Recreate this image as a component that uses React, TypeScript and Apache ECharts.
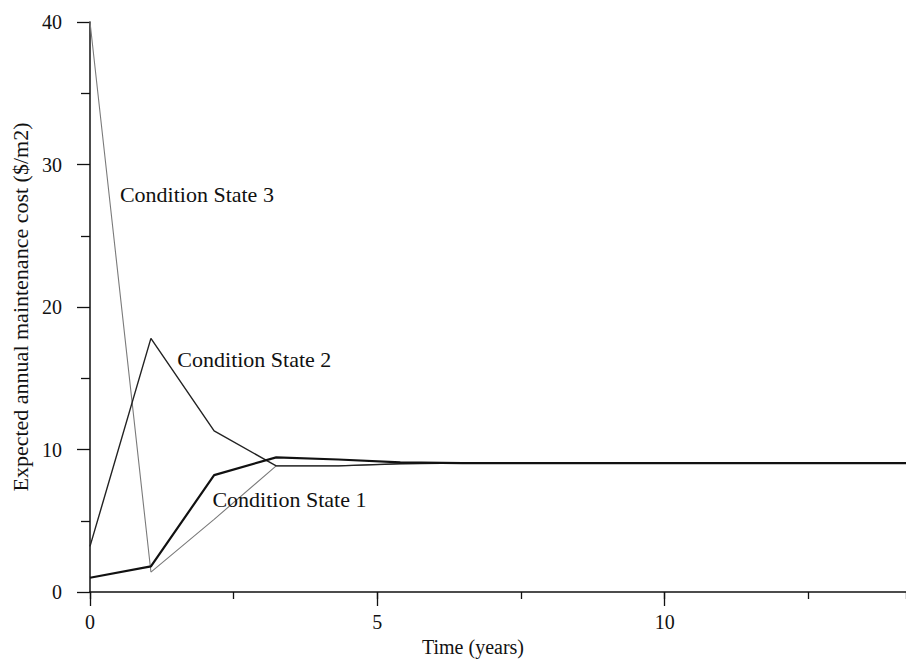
import React, { useEffect, useRef } from "react";
import * as echarts from "echarts";

// Time (years)
const years = [0, 1.06, 2.16, 3.24, 4.32, 5.4, 6.48, 7.56, 8.64, 9.72, 10.8, 11.88, 12.96, 14.2];
// Expected annual maintenance cost ($/m2)
const state1 = [1.0, 1.8, 8.2, 9.45, 9.3, 9.1, 9.05, 9.05, 9.05, 9.05, 9.05, 9.05, 9.05, 9.05];
const state2 = [3.2, 17.8, 11.3, 8.85, 8.85, 9.0, 9.05, 9.05, 9.05, 9.05, 9.05, 9.05, 9.05, 9.05];
const state3 = [40, 1.4, 5.1, 8.85, 8.85, 9.0, 9.05, 9.05, 9.05, 9.05, 9.05, 9.05, 9.05, 9.05];

// Annotation anchors (data coordinates: time, cost)
const labelNames = ["Condition State 3", "Condition State 2", "Condition State 1"];
const labelX = [0.52, 1.52, 2.13];
const labelY = [27.9, 16.35, 6.5];

const X_MAX = 14.2;
const FONT = "Liberation Serif";

export default function App() {
  const ref = useRef<HTMLDivElement>(null);

  useEffect(() => {
    document.body.style.margin = "0";
    if (!ref.current) return;
    const chart = echarts.init(ref.current, null, { renderer: "svg" });
    const pairs = (vals: number[]) => years.map((x, i) => [x, vals[i]]);
    const axisLineStyle = { color: "#111", width: 1.5 };
    chart.setOption({
      animation: false,
      backgroundColor: "#ffffff",
      textStyle: { fontFamily: FONT, color: "#111" },
      grid: { left: 90, top: 22, right: 0, height: 570, containLabel: false },
      xAxis: [
        {
          type: "value",
          min: 0,
          max: X_MAX,
          interval: 5,
          name: "Time (years)",
          nameLocation: "middle",
          nameGap: 45,
          nameTextStyle: { fontFamily: FONT, fontSize: 20, color: "#111", padding: [0, 50, 0, 0] },
          axisLine: { show: true, onZero: false, lineStyle: axisLineStyle },
          axisTick: { show: true, length: 14, lineStyle: { color: "#111", width: 1.3 } },
          axisLabel: { margin: 20, fontFamily: FONT, fontSize: 20, color: "#111", showMaxLabel: false },
          splitLine: { show: false },
        },
        {
          type: "value",
          position: "bottom",
          min: 0,
          max: X_MAX,
          interval: 2.5,
          axisLine: { show: false, onZero: false },
          axisTick: { show: true, length: 7, lineStyle: { color: "#111", width: 1.3 } },
          axisLabel: { show: false },
          splitLine: { show: false },
        },
      ],
      yAxis: {
        type: "value",
        min: 0,
        max: 40,
        interval: 10,
        name: "Expected annual maintenance cost ($/m2)",
        nameLocation: "middle",
        nameGap: 53,
        nameRotate: 90,
        nameTextStyle: { fontFamily: FONT, fontSize: 22, color: "#111" },
        axisLine: { show: true, onZero: false, lineStyle: axisLineStyle },
        axisTick: { show: true, length: 13, lineStyle: { color: "#111", width: 1.3 } },
        minorTick: { show: true, splitNumber: 2, length: 9, lineStyle: { color: "#111", width: 1.3 } },
        axisLabel: { margin: 28, fontFamily: FONT, fontSize: 20, color: "#111" },
        splitLine: { show: false },
        minorSplitLine: { show: false },
      },
      series: [
        {
          name: "Condition State 3",
          type: "line",
          data: pairs(state3),
          symbol: "none",
          lineStyle: { color: "#7a7a7a", width: 1.1 },
          z: 2,
        },
        {
          name: "Condition State 2",
          type: "line",
          data: pairs(state2),
          symbol: "none",
          lineStyle: { color: "#222", width: 1.4 },
          z: 3,
        },
        {
          name: "Condition State 1",
          type: "line",
          data: pairs(state1),
          symbol: "none",
          lineStyle: { color: "#111", width: 2.2 },
          z: 4,
        },
      ],
    });
    const texts = labelNames.map((n, i) => {
      const [px, py] = chart.convertToPixel({ xAxisIndex: 0, yAxisIndex: 0 }, [labelX[i], labelY[i]]) as number[];
      return {
        type: "text",
        x: px,
        y: py,
        z: 10,
        style: {
          text: n,
          fontFamily: FONT,
          fontSize: 22,
          fill: "#111",
          align: "left",
          verticalAlign: "middle",
        },
      };
    });
    chart.setOption({ graphic: texts });
    return () => chart.dispose();
  }, []);

  return <div ref={ref} style={{ width: 906, height: 665 }} />;
}
